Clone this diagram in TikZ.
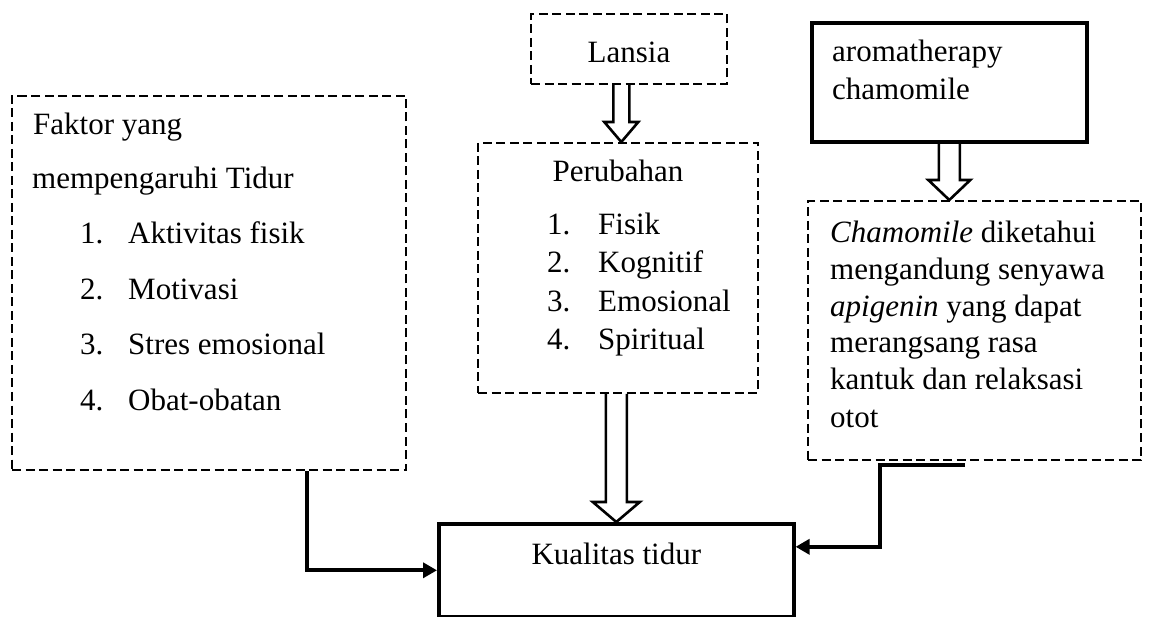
\documentclass[tikz,border=0pt]{standalone}
\usepackage{fontspec}
\setmainfont{Liberation Serif}
\usetikzlibrary{arrows.meta,calc}
\tikzset{
  dbox/.style={draw, line width=2pt, dash pattern=on 9pt off 4.5pt, inner sep=0pt, anchor=north west},
  sbox/.style={draw, line width=3.6pt, inner sep=0pt, anchor=north west},
  txt/.style={anchor=base west, inner sep=0pt, font=\fontsize{31}{36}\selectfont},
  ctxt/.style={anchor=base, inner sep=0pt, font=\fontsize{31}{36}\selectfont},
  conn/.style={line width=4pt, line join=miter, -{Triangle[length=14pt,width=15pt]}},
  harrow/.style={line width=2.6pt, line join=miter},
}
\newcommand\hollowarr[5]{%
  \draw[harrow] let \p1=(#1), \p2=(#2) in
    (\x1-#3,\y1) -- (\x1-#3,\y2+#5) -- (\x1-#4,\y2+#5) -- (\x1,\y2)
    -- (\x1+#4,\y2+#5) -- (\x1+#3,\y2+#5) -- (\x1+#3,\y1);}
\begin{document}
\begin{tikzpicture}[x=1pt,y=-1pt]
\useasboundingbox[fill=white] (0,0) rectangle (1154,617);
% boxes
\node[dbox, minimum width=394pt, minimum height=374pt] (faktor) at (11,95) {};
\node[dbox, minimum width=196pt, minimum height=70pt] (lansia) at (530,13) {};
\node[dbox, minimum width=280pt, minimum height=250pt] (perub) at (477,142) {};
\node[sbox, minimum width=275pt, minimum height=119pt] (aroma) at (810,21) {};
\node[dbox, minimum width=333pt, minimum height=259pt] (chamo) at (807,200) {};
\node[sbox, minimum width=355pt, minimum height=93pt] (kual) at (437,522) {};
% texts
\node[txt] (f0) at (33,135) {Faktor yang};
\node[txt] (f1) at (32,189) {mempengaruhi Tidur};
\node[txt] (f2n) at (80,244) {1.};
\node[txt] (f2) at (128,244) {Aktivitas fisik};
\node[txt] (f3n) at (80,300) {2.};
\node[txt] (f3) at (128,300) {Motivasi};
\node[txt] (f4n) at (80,355) {3.};
\node[txt] (f4) at (128,355) {Stres emosional};
\node[txt] (f5n) at (80,410) {4.};
\node[txt] (f5) at (128,410) {Obat-obatan};
\node[ctxt] (l0) at ($(lansia.center)+(0,14)$) {Lansia};
\node[ctxt] (p0) at ($(perub.north)+(0,40)$) {Perubahan};
\node[txt] (p1n) at (547,235) {1.};
\node[txt] (p1) at (598,235) {Fisik};
\node[txt] (p2n) at (547,273) {2.};
\node[txt] (p2) at (598,273) {Kognitif};
\node[txt] (p3n) at (547,312) {3.};
\node[txt] (p3) at (598,312) {Emosional};
\node[txt] (p4n) at (547,350) {4.};
\node[txt] (p4) at (598,350) {Spiritual};
\node[txt] (a0) at (832,62) {aromatherapy};
\node[txt] (a1) at (832,100) {chamomile};
\node[txt] (c0) at (830,243) {\textit{Chamomile} diketahui};
\node[txt] (c1) at (830,280) {mengandung senyawa};
\node[txt] (c2) at (830,317) {\textit{apigenin} yang dapat};
\node[txt] (c3) at (830,353) {merangsang rasa};
\node[txt] (c4) at (830,390) {kantuk dan relaksasi};
\node[txt] (c5) at (830,428) {otot};
\node[ctxt] (k0) at ($(kual.center)+(0,-6)$) {Kualitas tidur};
% hollow arrows
\hollowarr{$(lansia.south -| kual.north)+(5,0)$}{$(perub.north -| kual.north)+(5,0)$}{8pt}{17pt}{20pt}
\hollowarr{perub.south -| kual.north}{kual.north}{10.5pt}{23.5pt}{20pt}
\hollowarr{aroma.south}{chamo.north -| aroma.south}{10.5pt}{21pt}{20pt}
% connectors
\draw[conn] ($(faktor.south west)+(296,0)$) |- (kual.west);
\draw[conn] ($(chamo.south west)+(158,4)$) -- ($(chamo.south west)+(73,4)$) |- ($(kual.east)+(0,-23.5)$);
\end{tikzpicture}
\end{document}
